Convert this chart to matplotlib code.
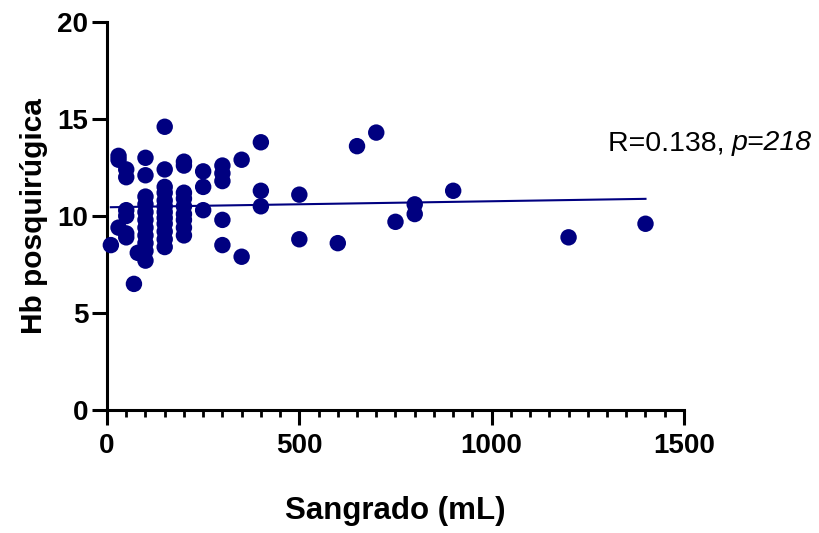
import matplotlib
matplotlib.use("Agg")
import matplotlib.pyplot as plt
from matplotlib.ticker import MultipleLocator
import numpy as np

plt.rcParams["font.family"] = ["Liberation Sans", "DejaVu Sans"]

NAVY = "#000080"

# blood loss (mL) and post-surgical Hb
sangrado = [
    10,
    30, 30, 30,
    50, 50, 50, 50, 50, 50,
    70, 80,
    100, 100, 100, 100, 100, 100, 100, 100, 100, 100, 100,
    150, 150, 150, 150, 150, 150, 150, 150, 150, 150, 150, 150,
    200, 200, 200, 200, 200, 200, 200, 200, 200,
    250, 250, 250,
    300, 300, 300, 300, 300,
    350, 350,
    400, 400, 400,
    500, 500,
    600, 650, 700, 750,
    800, 800,
    900, 1200, 1400,
]
hb = [
    8.5,
    13.1, 12.9, 9.4,
    12.4, 12.0, 10.3, 10.0, 9.1, 8.9,
    6.5, 8.1,
    13.0, 12.1, 11.0, 10.6, 10.2, 9.8, 9.4, 9.0, 8.6, 8.2, 7.7,
    14.6, 12.4, 11.5, 11.2, 10.8, 10.5, 10.2, 9.9, 9.6, 9.2, 8.8, 8.4,
    12.8, 12.6, 11.2, 10.9, 10.5, 10.1, 9.8, 9.4, 9.0,
    12.3, 11.5, 10.3,
    12.6, 12.2, 11.8, 9.8, 8.5,
    12.9, 7.9,
    13.8, 11.3, 10.5,
    11.1, 8.8,
    8.6, 13.6, 14.3, 9.7,
    10.6, 10.1,
    11.3, 8.9, 9.6,
]
stats_text = "R=0.138, "
p_text = "p=218"


def main() -> None:
    x = np.array(sangrado)
    y = np.array(hb)

    fig = plt.figure(figsize=(8.2, 5.33), dpi=100)
    ax = fig.add_axes([0.1305, 0.2308, 0.7036, 0.7279])

    ax.scatter(x, y, s=140, color=NAVY, edgecolors="none", zorder=3, clip_on=False)

    # least-squares line over the observed range
    slope, intercept = np.polyfit(x, y, 1)
    xs = np.array([x.min(), x.max()])
    ax.plot(xs, slope * xs + intercept, color=NAVY, lw=1.5, zorder=2)

    ax.set_xlim(0, 1500)
    ax.set_ylim(0, 20)
    ax.xaxis.set_major_locator(MultipleLocator(500))
    ax.xaxis.set_minor_locator(MultipleLocator(50))
    ax.yaxis.set_major_locator(MultipleLocator(5))

    for side in ("top", "right"):
        ax.spines[side].set_visible(False)
    for side in ("left", "bottom"):
        ax.spines[side].set_linewidth(2.2)

    ax.tick_params(axis="both", which="major", length=10.5, width=2.2,
                   labelsize=20, direction="out")
    ax.tick_params(axis="x", which="minor", length=5, width=2)
    ax.tick_params(axis="x", which="major", pad=6)
    ax.tick_params(axis="y", which="major", pad=3)
    for lab in ax.get_xticklabels() + ax.get_yticklabels():
        lab.set_fontweight("bold")

    ax.set_xlabel("Sangrado (mL)", fontsize=22.5, fontweight="bold", labelpad=27)
    ax.set_ylabel("Hb posquirúgica", fontsize=21.5, fontweight="bold", labelpad=7)

    t1 = ax.text(1302, 13.76, stats_text, fontsize=20.5, va="center", ha="left",
                 clip_on=False)
    ax.annotate(p_text, xy=(1, 0), xycoords=t1, va="bottom", ha="left",
                fontsize=20.5, style="italic", annotation_clip=False)

    fig.savefig("out.png", dpi=100)


if __name__ == "__main__":
    main()
